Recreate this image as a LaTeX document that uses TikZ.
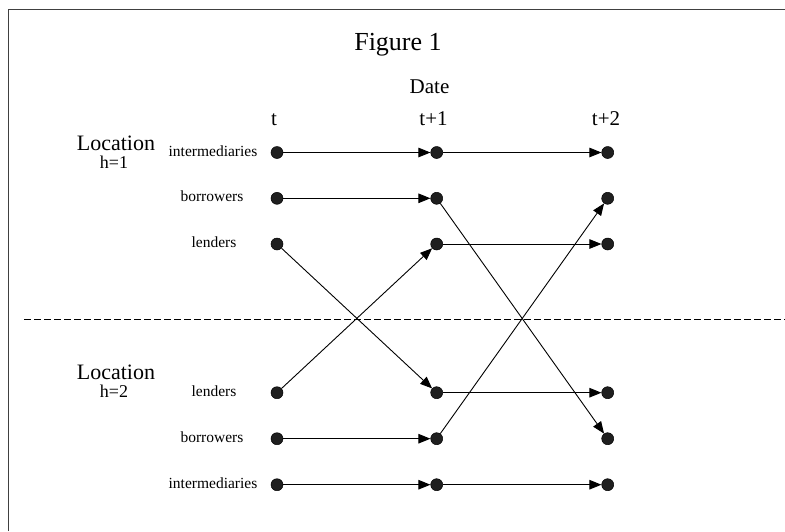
\documentclass[tikz,border=0pt]{standalone}
\usepackage{fontspec}
\setmainfont{Liberation Serif}
\usetikzlibrary{arrows.meta}
\begin{document}
\begin{tikzpicture}[x=1pt,y=-1pt,
  dot/.style={circle,fill=black!88,draw=black,line width=0.5pt,minimum size=12pt,inner sep=0pt},
  conn/.style={line width=0.9pt,-{Triangle[length=12pt,width=9.5pt]}},
  rowlab/.style={anchor=base,font=\fontsize{15.5}{16}\selectfont},
  collab/.style={anchor=base,font=\fontsize{21}{22}\selectfont},
  loclab/.style={anchor=base,inner ysep=1pt,font=\fontsize{22}{23}\selectfont},
  hlab/.style={anchor=base,inner ysep=1pt,font=\fontsize{18}{19}\selectfont}]
\useasboundingbox (0,0) rectangle (785,531);
\draw[line width=1.3pt,black!75] (8.5,531) -- (8.5,9.5) -- (785,9.5);
% titles
\node[anchor=base,font=\fontsize{26}{27}\selectfont] (fig) at (398,50) {Figure 1};
\node[anchor=base,font=\fontsize{21}{22}\selectfont] (date) at (429.5,93) {Date};
\node[collab] (ct) at (274,125) {t};
\node[collab] (ct1) at (433.5,125) {t+1};
\node[collab] (ct2) at (606,125) {t+2};
\node[loclab] (loc1) at (116,150) {Location};
\node[hlab] (h1) at (114,168.5) {h=1};
\node[loclab] (loc2) at (116,379) {Location};
\node[hlab] (h2) at (114,397.5) {h=2};
% row labels
\node[rowlab] (li1) at (213,156) {intermediaries};
\node[rowlab] (lb1) at (212,201) {borrowers};
\node[rowlab] (ll1) at (214,247) {lenders};
\node[rowlab] (ll2) at (214,396) {lenders};
\node[rowlab] (lb2) at (212,442) {borrowers};
\node[rowlab] (li2) at (213,488) {intermediaries};
% dots
\foreach \c/\x in {a/277,b/436.7,c/607.7}{
  \node[dot] (i1\c) at (\x,152.5) {};
  \node[dot] (b1\c) at (\x,198.3) {};
  \node[dot] (l1\c) at (\x,244) {};
  \node[dot] (l2\c) at (\x,392.7) {};
  \node[dot] (b2\c) at (\x,438.7) {};
  \node[dot] (i2\c) at (\x,484.7) {};
}
% dashed divider
\coordinate (dl) at (24,319);
\coordinate (dr) at (785,319);
\draw[line width=0.85pt,black,dash pattern=on 7pt off 3pt] (dl) -- (dr);
% connectors
\draw[conn] (i1a) -- (i1b);
\draw[conn] (i1b) -- (i1c);
\draw[conn] (b1a) -- (b1b);
\draw[conn] (b1b) -- (b2c);
\draw[conn] (l1a) -- (l2b);
\draw[conn] (l1b) -- (l1c);
\draw[conn] (l2a) -- (l1b);
\draw[conn] (l2b) -- (l2c);
\draw[conn] (b2a) -- (b2b);
\draw[conn] (b2b) -- (b1c);
\draw[conn] (i2a) -- (i2b);
\draw[conn] (i2b) -- (i2c);
\end{tikzpicture}
\end{document}
